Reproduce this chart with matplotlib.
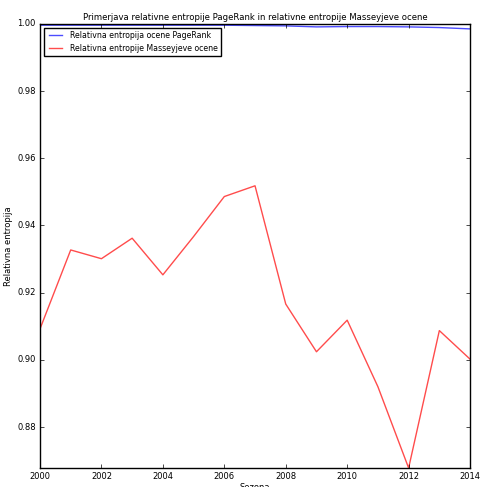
import matplotlib
matplotlib.use("Agg")
import matplotlib.pyplot as plt

# sezone in relativne entropije
sezone = [2000, 2001, 2002, 2003, 2004, 2005, 2006, 2007,
          2008, 2009, 2010, 2011, 2012, 2013, 2014]
entropija_pagerank = [0.9996, 0.9996, 0.9996, 0.9996, 0.9996, 0.9996, 0.9996, 0.9995,
                      0.9994, 0.9991, 0.9992, 0.9992, 0.9991, 0.9989, 0.9985]
entropija_massey = [0.9092, 0.9327, 0.9301, 0.9362, 0.9253, 0.9367, 0.9486, 0.9518,
                    0.9166, 0.9024, 0.9118, 0.8920, 0.8678, 0.9087, 0.9002]

plt.style.use("classic")
fig = plt.figure(figsize=(4.8, 4.87), dpi=100)
ax = fig.add_axes([0.0833, 0.039, 0.896, 0.912])

ax.plot(sezone, entropija_pagerank, color="b", alpha=0.7, linewidth=1,
        label="Relativna entropija ocene PageRank")
ax.plot(sezone, entropija_massey, color="r", alpha=0.7, linewidth=1,
        label="Relativna entropije Masseyjeve ocene")

ax.set_xlim(2000, 2014)
ax.set_ylim(min(entropija_massey), 1.0)
ax.set_xticks(range(2000, 2015, 2))
ax.set_xticklabels([str(s) for s in range(2000, 2015, 2)])
yt = [0.88, 0.90, 0.92, 0.94, 0.96, 0.98, 1.00]
ax.set_yticks(yt)
ax.set_yticklabels(["%.2f" % v for v in yt])
ax.tick_params(labelsize=6, length=3, pad=3)

ax.set_title("Primerjava relativne entropije PageRank in relativne entropije Masseyjeve ocene",
             fontsize=6.1, pad=3)
ax.set_xlabel("Sezona", fontsize=6, labelpad=1)
ax.set_ylabel("Relativna entropija", fontsize=6, labelpad=3)
ax.legend(loc="upper left", fontsize=5.6, frameon=True, borderaxespad=0.5,
          handlelength=2.2)

plt.savefig("out.png", dpi=100)
